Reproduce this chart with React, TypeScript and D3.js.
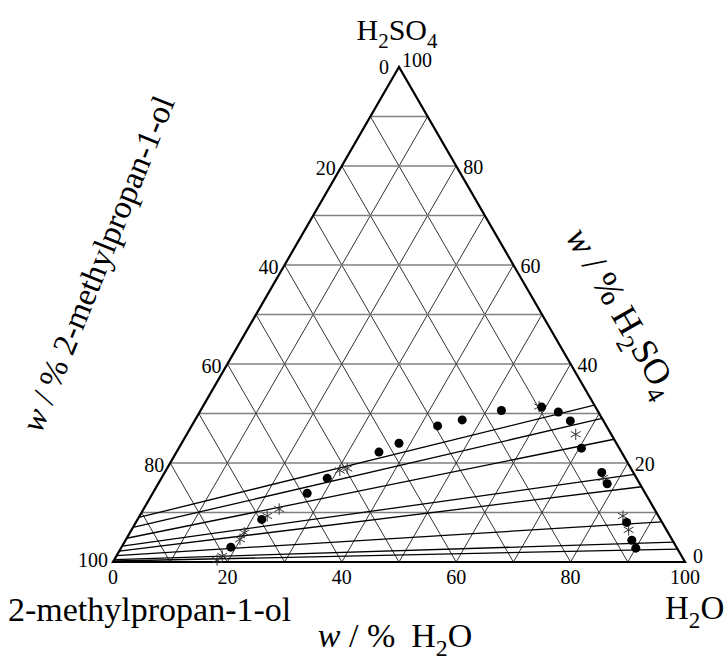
import React from "react";
import * as d3 from "d3";

// ---- data (w% H2O, w% H2SO4) ----
const dotsH2O = [19.1, 21.7, 27.0, 29.0, 35.4, 38.0, 43.0, 46.7, 52.6, 59.3, 62.7, 65.7, 70.4, 76.4, 78.5, 85.8, 88.5, 90.0];
const dotsH2SO4 = [3.0, 8.6, 13.9, 16.9, 22.2, 24.0, 27.5, 28.7, 30.6, 31.3, 30.3, 28.5, 23.0, 18.1, 15.8, 8.0, 4.4, 2.8];

const starsH2O = [18.0, 18.5, 19.9, 20.0, 22.3, 23.7, 30.4, 31.5, 58.8, 68.0, 77.2, 84.5, 86.9];
const starsH2SO4 = [0.4, 1.2, 4.6, 5.9, 9.3, 10.7, 18.5, 18.9, 31.4, 25.8, 17.0, 9.3, 6.5];

// tie lines: H2SO4 % where each line meets the left edge and right edge
const tieLeftH2SO4 = [9.0, 7.0, 4.8, 3.2, 2.2, 1.3, 0.5, 0.2];
const tieRightH2SO4 = [31.7, 29.0, 24.8, 17.7, 15.2, 8.1, 4.0, 2.6];

const gridSteps = [10, 20, 30, 40, 50, 60, 70, 80, 90];
const tickValues = [0, 20, 40, 60, 80, 100];

const FONT = "'Liberation Serif', 'Times New Roman', serif";

// parts: [text, isSubscript, dx?]
function Rich({ parts, size }: { parts: [string, boolean, number?][]; size: number }) {
  const shift = size * 0.26;
  let cur = 0;
  return (
    <>
      {parts.map(([t, s, dx], i) => {
        const target = s ? shift : 0;
        const dy = target - cur;
        cur = target;
        return (
          <tspan key={i} dy={dy} dx={dx || 0} fontSize={s ? size * 0.7 : size} fontStyle={t === "w" ? "italic" : undefined}>
            {t}
          </tspan>
        );
      })}
    </>
  );
}

export default function App() {
  const W = 726, H = 660;
  const xs = d3.scaleLinear().domain([0, 100]).range([113, 685]);
  const ys = d3.scaleLinear().domain([0, 100]).range([562, 67]);
  const P = (w: number, s: number): [number, number] => [xs(w + s / 2), ys(s)];
  const line = d3.line();

  const grid: React.ReactNode[] = [];
  gridSteps.forEach((v, i) => {
    const a = P(0, v), b = P(100 - v, v);
    grid.push(<line key={"h" + i} x1={a[0]} y1={a[1]} x2={b[0]} y2={b[1]} stroke="#808080" strokeWidth={1.5} />);
    const c = P(v, 0), d = P(v, 100 - v);
    grid.push(<line key={"w" + i} x1={c[0]} y1={c[1]} x2={d[0]} y2={d[1]} stroke="#333" strokeWidth={1} />);
    const e = P(100 - v, 0), f = P(0, 100 - v);
    grid.push(<line key={"a" + i} x1={e[0]} y1={e[1]} x2={f[0]} y2={f[1]} stroke="#333" strokeWidth={1} />);
  });

  const ties = tieLeftH2SO4.map((l, i) => {
    const r = tieRightH2SO4[i];
    return <path key={"t" + i} d={line([P(0, l), P(100 - r, r)]) || ""} stroke="#000" strokeWidth={1.3} fill="none" />;
  });

  const tri = line([P(0, 0), P(100, 0), P(0, 100), P(0, 0)]) + "Z";
  const star = d3.symbol().type(d3.symbolAsterisk).size(90)();

  return (
    <svg width={W} height={H} style={{ position: "absolute", left: 0, top: 0, background: "#fff" }} fontFamily={FONT}>
      <rect width={W} height={H} fill="#fff" />
      {grid}
      {ties}
      <path d={tri} fill="none" stroke="#000" strokeWidth={2.2} strokeLinejoin="miter" />
      {starsH2O.map((w, i) => {
        const [x, y] = P(w, starsH2SO4[i]);
        return <path key={"s" + i} d={star || ""} transform={`translate(${x},${y})`} fill="none" stroke="#333" strokeWidth={1} />;
      })}
      {dotsH2O.map((w, i) => {
        const [x, y] = P(w, dotsH2SO4[i]);
        return <circle key={"d" + i} cx={x} cy={y} r={4.5} fill="#000" />;
      })}
      {tickValues.map((v) => {
        const [x, y] = P(v, 0);
        return <text key={"bt" + v} x={x} y={y + 22} fontSize={20} textAnchor="middle">{v}</text>;
      })}
      {tickValues.map((v) => {
        const [x, y] = P(100 - v, v);
        if (v === 100) return <text key={"rt" + v} x={x + 3} y={y} fontSize={20}>{v}</text>;
        if (v === 0) return <text key={"rt" + v} x={x + 8} y={y + 1} fontSize={20}>{v}</text>;
        return <text key={"rt" + v} x={x + 7} y={y + 8} fontSize={20}>{v}</text>;
      })}
      {tickValues.map((v) => {
        const [x, y] = P(0, 100 - v);
        if (v === 0) return <text key={"lt" + v} x={x - 10} y={y + 7} fontSize={20} textAnchor="end">{v}</text>;
        if (v === 100) return <text key={"lt" + v} x={x - 5} y={y + 5} fontSize={20} textAnchor="end">{v}</text>;
        return <text key={"lt" + v} x={x - 6} y={y + 9} fontSize={20} textAnchor="end">{v}</text>;
      })}
      <text x={397} y={40} fontSize={30} textAnchor="middle">
        <Rich size={30} parts={[["H", false], ["2", true], ["SO", false], ["4", true]]} />
      </text>
      <text x={8} y={621} fontSize={34}>2-methylpropan-1-ol</text>
      <text x={665} y={619} fontSize={33}>
        <Rich size={33} parts={[["H", false], ["2", true], ["O", false]]} />
      </text>
      <text x={395} y={647} fontSize={34} textAnchor="middle">
        <Rich size={34} parts={[["w", false], [" / %", false], ["H", false, 16], ["2", true], ["O", false]]} />
      </text>
      <text transform="translate(108,268) rotate(-68)" fontSize={33} textAnchor="middle">
        <Rich size={33} parts={[["w", false], [" / % 2-methylpropan-1-ol", false]]} />
      </text>
      <text transform="translate(612,318) rotate(60)" fontSize={36} textAnchor="middle">
        <Rich size={36} parts={[["w", false], [" / % H", false], ["2", true], ["SO", false], ["4", true]]} />
      </text>
    </svg>
  );
}
